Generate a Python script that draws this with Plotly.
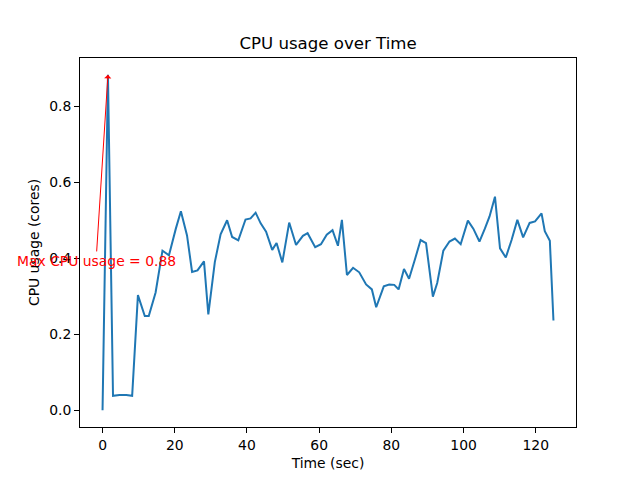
import plotly.graph_objects as go

time_sec = [0, 1.5, 2.9, 4.7, 6.6, 8.2, 9.8, 11.7, 12.8, 14.7, 16.6, 18.4, 20.3, 21.7, 23.4, 24.8,
            26.3, 28.1, 29.3, 31.1, 32.7, 34.5, 35.9, 37.6, 39.6, 41.0, 42.4, 43.8, 45.3, 47.0, 48.2,
            49.8, 51.7, 53.6, 55.5, 56.8, 58.9, 60.5, 62.1, 63.7, 65.2, 66.3, 67.7, 69.4, 71.1, 73.0,
            74.6, 75.8, 77.9, 79.4, 80.8, 82.0, 83.5, 84.9, 86.5, 88.1, 89.6, 91.5, 92.7, 94.4, 96.1,
            97.6, 99.2, 101.2, 102.7, 104.4, 105.9, 107.2, 108.7, 110.1, 111.7, 113.3, 114.9, 116.5,
            118.3, 119.8, 121.6, 122.5, 123.9, 124.9]
cpu_usage = [0.0, 0.883, 0.038, 0.040, 0.040, 0.038, 0.303, 0.248, 0.248, 0.31, 0.42, 0.408, 0.478,
             0.524, 0.46, 0.364, 0.368, 0.392, 0.252, 0.39, 0.463, 0.5, 0.456, 0.447, 0.502, 0.505,
             0.52, 0.492, 0.47, 0.422, 0.44, 0.389, 0.494, 0.435, 0.459, 0.466, 0.429, 0.437, 0.462,
             0.474, 0.433, 0.501, 0.356, 0.375, 0.363, 0.331, 0.318, 0.271, 0.326, 0.331, 0.33, 0.318,
             0.372, 0.346, 0.396, 0.448, 0.44, 0.299, 0.335, 0.42, 0.444, 0.452, 0.437, 0.499, 0.478,
             0.444, 0.478, 0.51, 0.562, 0.426, 0.402, 0.448, 0.501, 0.455, 0.493, 0.497, 0.518, 0.471,
             0.446, 0.236]
x_ticks = [0, 20, 40, 60, 80, 100, 120]
y_ticks = [0.0, 0.2, 0.4, 0.6, 0.8]
max_label = "Max CPU usage = 0.88"
text_pos = (-1.8, 0.393)

max_v = max(cpu_usage)
max_t = time_sec[cpu_usage.index(max_v)]
tmin, tmax = min(time_sec), max(time_sec)
xpad = (tmax - tmin) * 0.05
ypad = (max_v - min(cpu_usage)) * 0.05

fig = go.Figure()
fig.add_trace(go.Scatter(x=time_sec, y=cpu_usage, mode="lines",
                         line=dict(color="#1f77b4", width=2), showlegend=False))
fig.add_annotation(x=max_t, y=max_v, ax=text_pos[0], ay=text_pos[1], axref="x", ayref="y",
                   xref="x", yref="y", text=max_label, showarrow=True,
                   arrowhead=1, arrowsize=1.2, arrowwidth=1, arrowcolor="red",
                   font=dict(color="red", size=13.9, family="DejaVu Sans"))

axis_common = dict(showline=True, linecolor="black", linewidth=1, mirror=True, automargin=False,
                   ticks="outside", ticklen=5, tickcolor="black", showgrid=False, zeroline=False,
                   tickfont=dict(size=13.9, color="black", family="DejaVu Sans"))
fig.update_xaxes(range=[tmin - xpad, tmax + xpad], tickvals=x_ticks,
                 title=dict(text="Time (sec)", font=dict(size=13.9, color="black"), standoff=6),
                 **axis_common)
fig.update_yaxes(range=[min(cpu_usage) - ypad, max_v + ypad], tickvals=y_ticks, tickformat=".1f",
                 title=dict(text="CPU usage (cores)", font=dict(size=13.9, color="black"), standoff=6),
                 **axis_common)
fig.update_layout(
    width=632, height=472,
    margin=dict(l=72, r=64, t=50, b=53),
    paper_bgcolor="white", plot_bgcolor="white",
    font=dict(family="DejaVu Sans", color="black"),
    title=dict(text="CPU usage over Time", x=(328 - 8) / 632, xanchor="center", y=1 - 35 / 472,
               yanchor="middle", yref="container", font=dict(size=16.6, color="black")),
)
fig.write_html("out.html")
